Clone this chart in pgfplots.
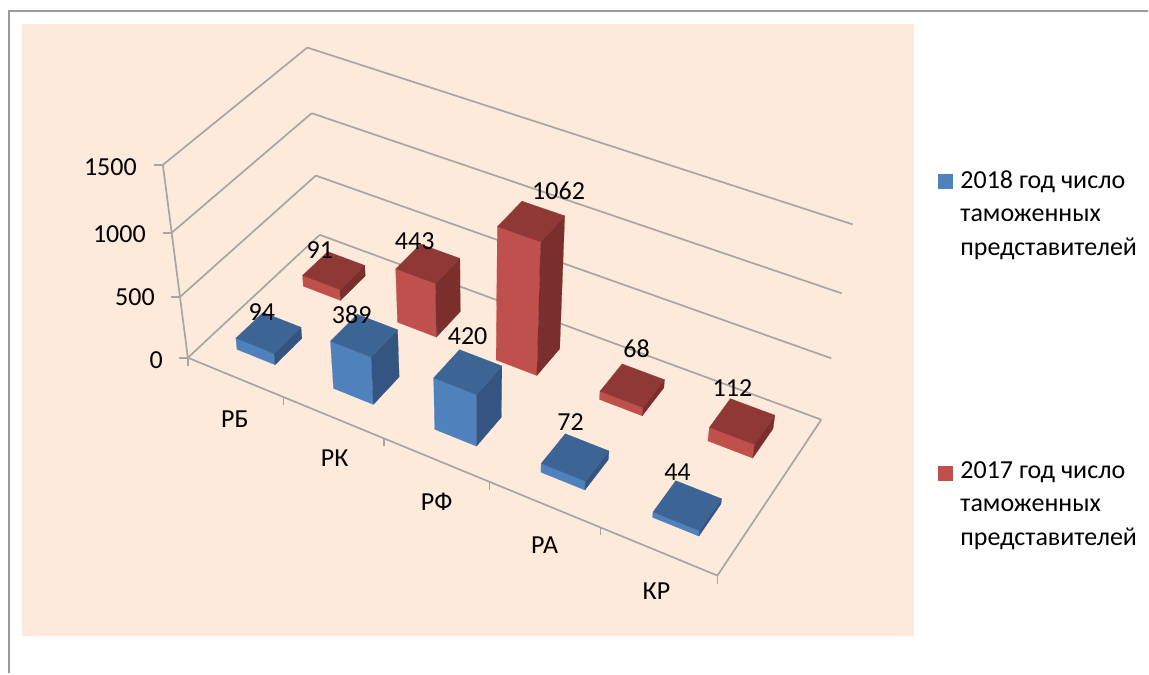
\documentclass[border=0pt]{standalone}
\usepackage{pgfplots}
\usepackage{pgfplotstable}
\usepackage{fontspec}
\pgfplotsset{compat=1.18}
\setmainfont{Carlito}
\tikzset{lab/.style={font=\fontsize{26}{30}\selectfont,text=black,inner sep=0pt,anchor=center}}
\definecolor{peach}{HTML}{FDEADA}
\definecolor{wallgray}{HTML}{A6A6A3}
\definecolor{framegray}{HTML}{9A9A9A}
\definecolor{bluefront}{HTML}{4F81BD}
\definecolor{bluetop}{HTML}{3C6494}
\definecolor{blueside}{HTML}{34557F}
\definecolor{redfront}{HTML}{C0504D}
\definecolor{redtop}{HTML}{8F3835}
\definecolor{redside}{HTML}{7A2F2D}
% category (0 = RB ... 4 = KR), value, and position of the value label
\pgfplotstableread{
cat value lx ly
0 91 320 250
1 443 415 241
2 1062 559 191
3 68 637 349
4 112 733 388
}\seriesB
\pgfplotstableread{
cat value lx ly
0 94 262 312
1 389 352 315
2 420 468 336
3 72 571 422
4 44 678 473
}\seriesA
% projection of (u,w,z), each in 0..1, to picture coordinates
\newcommand\proj[4]{%
  \pgfmathsetmacro\pd{1-0.11672*#2+0.07996*#3-0.08*#4}%
  \pgfmathsetmacro\px{(446.2*#2+157.59*#3-38.04*#4+188)/\pd}%
  \pgfmathsetmacro\py{(150.77*#2-104.21*#3-206.2*#4+358)/\pd}%
  \expandafter\let\csname x#1\endcsname\px
  \expandafter\let\csname y#1\endcsname\py}
\newcommand\wall[6]{% from (u,w,z) to (u,w,z)
  \proj{P}{#1}{#2}{#3}\proj{Q}{#4}{#5}{#6}%
  \addplot[wallgray,line width=1.7pt,forget plot] coordinates {(\xP,\yP) (\xQ,\yQ)};}
\newcommand\vtick[1]{% horizontal tick on the value axis, at z
  \proj{P}{0}{0}{#1}\pgfmathsetmacro\xQ{\xP-9}%
  \addplot[wallgray,line width=1.7pt,forget plot] coordinates {(\xQ,\yP) (\xP,\yP)};}
\newcommand\ctick[1]{% vertical tick on the category axis, at u
  \proj{P}{#1}{0}{0}\pgfmathsetmacro\yQ{\yP+8}%
  \addplot[wallgray,line width=1.7pt,forget plot] coordinates {(\xP,\yP) (\xP,\yQ)};}
\newcommand\cuboid[4]{% category, depth centre, value, colour prefix
  \pgfmathsetmacro\ua{(#1+0.3)/5}\pgfmathsetmacro\ub{(#1+0.7)/5}%
  \pgfmathsetmacro\wa{#2-0.1}\pgfmathsetmacro\wb{#2+0.1}%
  \pgfmathsetmacro\zt{#3/1500}%
  \proj{A}{\ua}{\wa}{0}\proj{B}{\ub}{\wa}{0}\proj{C}{\ub}{\wb}{0}%
  \proj{D}{\ua}{\wa}{\zt}\proj{E}{\ub}{\wa}{\zt}\proj{F}{\ub}{\wb}{\zt}\proj{G}{\ua}{\wb}{\zt}%
  \addplot[fill=#4front,draw=#4front,line width=.2pt,forget plot] coordinates {(\xA,\yA) (\xB,\yB) (\xE,\yE) (\xD,\yD)} --cycle;
  \addplot[fill=#4side,draw=#4side,line width=.2pt,forget plot] coordinates {(\xB,\yB) (\xC,\yC) (\xF,\yF) (\xE,\yE)} --cycle;
  \addplot[fill=#4top,draw=#4top,line width=.2pt,forget plot] coordinates {(\xD,\yD) (\xE,\yE) (\xF,\yF) (\xG,\yG)} --cycle;
}
\newcommand\drawseries[3]{% table, depth centre, colour
  \pgfplotsforeachungrouped \i in {0,...,4}{%
    \pgfplotstablegetelem{\i}{value}\of#1\let\val\pgfplotsretval
    \cuboid{\i}{#2}{\val}{#3}%
  }}
\newcommand\drawlabels[1]{%
  \pgfplotsforeachungrouped \i in {0,...,4}{%
    \pgfplotstablegetelem{\i}{value}\of#1\let\val\pgfplotsretval
    \pgfplotstablegetelem{\i}{lx}\of#1\let\lx\pgfplotsretval
    \pgfplotstablegetelem{\i}{ly}\of#1\let\ly\pgfplotsretval
    \edef\temp{\noexpand\node[lab] at (axis cs:\lx,\ly) {\val};}\temp
  }}
\begin{document}
\begin{tikzpicture}
\begin{axis}[
  width=1149pt,height=674pt,scale only axis,
  xmin=0,xmax=1149,ymin=0,ymax=674,y dir=reverse,
  axis line style={draw=none},tick style={draw=none},
  xtick=\empty,ytick=\empty,clip=false,
]
% frame and background
\addplot[framegray,line width=1.8pt,forget plot] coordinates {(9,674) (9,11) (1149,11)};
\addplot[fill=peach,draw=none,forget plot] coordinates {(22,24) (915,24) (915,636) (22,636)} --cycle;
% gridlines on the walls
\wall{0}{0}{0}{0}{1}{0}\wall{0}{1}{0}{1}{1}{0}
\wall{0}{0}{0.3333}{0}{1}{0.3333}\wall{0}{1}{0.3333}{1}{1}{0.3333}
\wall{0}{0}{0.6667}{0}{1}{0.6667}\wall{0}{1}{0.6667}{1}{1}{0.6667}
\wall{0}{0}{1}{0}{1}{1}\wall{0}{1}{1}{1}{1}{1}
% axes
\wall{0}{0}{0}{0}{0}{1}
\wall{0}{0}{0}{1}{0}{0}
\wall{1}{0}{0}{1}{1}{0}
% value ticks
\vtick{0}\vtick{0.3333}\vtick{0.6667}\vtick{1}
% category ticks
\ctick{0}\ctick{0.2}\ctick{0.4}\ctick{0.6}\ctick{0.8}\ctick{1}
% bars, back row first
\drawseries{\seriesB}{0.75}{red}
\drawseries{\seriesA}{0.25}{blue}
% value labels
\drawlabels{\seriesB}
\drawlabels{\seriesA}
% value axis labels
\node[lab,anchor=east] at (axis cs:137,167) {1500};
\node[lab,anchor=east] at (axis cs:146,234) {1000};
\node[lab,anchor=east] at (axis cs:155,297) {500};
\node[lab,anchor=east] at (axis cs:163,360) {0};
% category labels
\node[lab] at (axis cs:235,419) {РБ};
\node[lab] at (axis cs:335,459) {РК};
\node[lab] at (axis cs:437,502) {РФ};
\node[lab] at (axis cs:545,546) {РА};
\node[lab] at (axis cs:657,592) {КР};
% legend
\addplot[fill=bluefront,draw=none,forget plot] coordinates {(939,174) (954,174) (954,189) (939,189)} --cycle;
\addplot[fill=redfront,draw=none,forget plot] coordinates {(939,466) (954,466) (954,481) (939,481)} --cycle;
\node[lab,anchor=west] at (axis cs:961,182) {2018 год число};
\node[lab,anchor=west] at (axis cs:961,215) {таможенных};
\node[lab,anchor=west] at (axis cs:961,249) {представителей};
\node[lab,anchor=west] at (axis cs:961,473) {2017 год число};
\node[lab,anchor=west] at (axis cs:961,506) {таможенных};
\node[lab,anchor=west] at (axis cs:961,539) {представителей};
\end{axis}
\end{tikzpicture}
\end{document}
